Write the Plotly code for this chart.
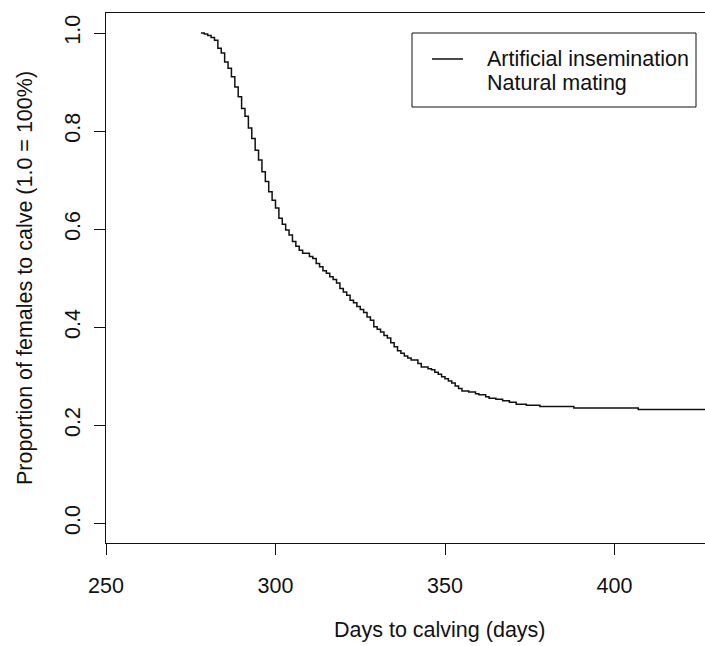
import plotly.graph_objects as go

# Days to calving and proportion of females still to calve
days = [278, 279, 280, 281, 282, 283, 284, 285, 286, 287, 288, 289, 290, 291, 292, 293, 294,
        295, 296, 297, 298, 299, 300, 301, 302, 303, 304, 305, 306, 307, 308, 310,
        311, 312, 313, 314, 315, 316, 317, 318, 319, 320, 321, 322, 323, 324, 325,
        326, 327, 328, 329, 330, 331, 332, 333, 334, 335, 336, 337, 338, 339, 340,
        342, 343, 345, 346, 347, 348, 349, 350, 351, 352, 353, 354, 355, 357, 359,
        360, 362, 363, 365, 367, 369, 371, 374, 378, 388, 407, 427]
proportion = [1.000, 0.998, 0.995, 0.991, 0.985, 0.969, 0.959, 0.941, 0.928, 0.911, 0.890, 0.870,
              0.846, 0.830, 0.806, 0.785, 0.761, 0.741, 0.717, 0.697, 0.676, 0.659,
              0.643, 0.622, 0.610, 0.598, 0.588, 0.575, 0.565, 0.557, 0.551, 0.544,
              0.540, 0.530, 0.523, 0.515, 0.510, 0.503, 0.497, 0.490, 0.479, 0.472,
              0.465, 0.455, 0.450, 0.442, 0.436, 0.430, 0.421, 0.414, 0.401, 0.396,
              0.390, 0.383, 0.378, 0.368, 0.360, 0.352, 0.347, 0.341, 0.337, 0.333,
              0.326, 0.319, 0.315, 0.313, 0.308, 0.304, 0.299, 0.295, 0.290, 0.286,
              0.280, 0.275, 0.270, 0.268, 0.264, 0.262, 0.258, 0.255, 0.253, 0.250,
              0.247, 0.243, 0.241, 0.238, 0.235, 0.232, 0.232]

series_names = ["Artificial insemination", "Natural mating"]
x_ticks = [250, 300, 350, 400]
y_ticks = [0.0, 0.2, 0.4, 0.6, 0.8, 1.0]
y_tick_labels = ["0.0", "0.2", "0.4", "0.6", "0.8", "1.0"]

FONT = "Liberation Sans, Arial, Helvetica, sans-serif"
INK = "#111111"
FS = 21.5

# plot area in pixels
L, R, T, B = 106, 705, 13, 543
def px(x):
    return (x - L) / (R - L)
def py(y):
    return (B - y) / (B - T)

fig = go.Figure()
fig.add_trace(go.Scatter(
    x=days, y=proportion, mode="lines", name=series_names[0],
    line=dict(color=INK, width=1.5, shape="hv"), showlegend=False,
))

shapes = [
    # legend box
    dict(type="rect", xref="paper", yref="paper",
         x0=px(412), x1=px(696), y0=py(107), y1=py(33),
         line=dict(color=INK, width=1), fillcolor="white", layer="above"),
    # legend sample line for the first series
    dict(type="line", xref="paper", yref="paper",
         x0=px(432), x1=px(463), y0=py(59), y1=py(59),
         line=dict(color=INK, width=1.5), layer="above"),
]

annotations = [
    dict(text=series_names[0], xref="paper", yref="paper",
         x=px(485), y=py(59), xanchor="left", yanchor="middle", showarrow=False,
         font=dict(family=FONT, size=FS, color=INK)),
    dict(text=series_names[1], xref="paper", yref="paper",
         x=px(485), y=py(83), xanchor="left", yanchor="middle", showarrow=False,
         font=dict(family=FONT, size=FS, color=INK)),
    dict(text="Days to calving (days)", xref="paper", yref="paper",
         x=px(440), y=py(630), xanchor="center", yanchor="middle", showarrow=False,
         font=dict(family=FONT, size=FS, color=INK)),
]

fig.update_layout(
    width=705, height=646,
    margin=dict(l=L, r=0, t=T, b=646 - B),
    paper_bgcolor="white", plot_bgcolor="white",
    font=dict(family=FONT, size=FS, color=INK),
    showlegend=False,
    shapes=shapes,
    annotations=annotations,
    xaxis=dict(
        range=[250, 250 + (R - L) / 3.39],
        tickvals=x_ticks, ticktext=[str(v) for v in x_ticks],
        ticks="outside", ticklen=11, tickcolor=INK, tickwidth=1,
        showline=True, linecolor=INK, linewidth=1, mirror=True,
        showgrid=False, zeroline=False,
        ticklabelstandoff=12,
    ),
    yaxis=dict(
        range=[-0.0402, 1.0408],
        tickvals=y_ticks, ticktext=y_tick_labels, tickangle=-90,
        ticks="outside", ticklen=11, tickcolor=INK, tickwidth=1,
        showline=True, linecolor=INK, linewidth=1, mirror=False,
        showgrid=False, zeroline=False,
        ticklabelstandoff=5,
        title=dict(text="Proportion of females to calve (1.0 = 100%)",
                   font=dict(family=FONT, size=FS, color=INK), standoff=22),
    ),
)

fig.write_html("out.html")
